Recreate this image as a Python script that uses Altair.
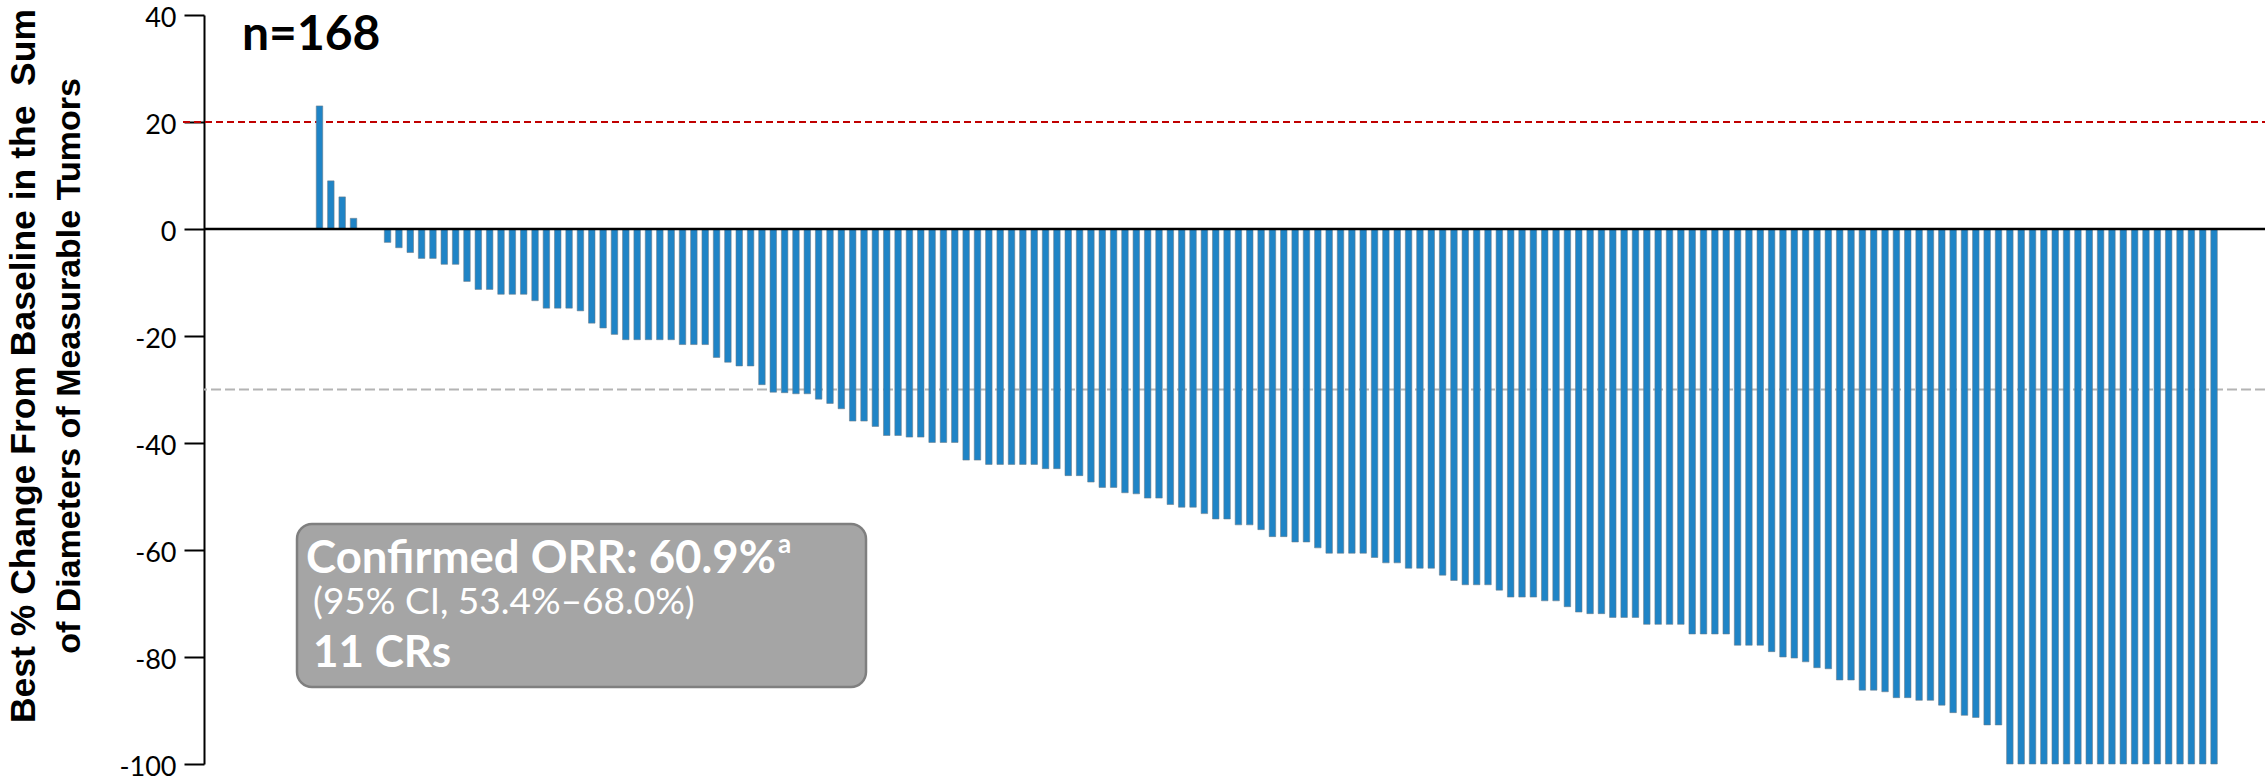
import altair as alt
import pandas as pd

# Best % change from baseline in the sum of diameters of target lesions,
# one value per patient, sorted from worst to best response.
best_change = [
    23, 9, 6, 2, 0, 0, -2.5, -3.5, -4.4, -5.5,
    -5.5, -6.6, -6.6, -9.8, -11.3, -11.3, -12.2, -12.2, -12.2, -13.4,
    -14.8, -14.8, -14.8, -15.3, -17.6, -18.5, -19.7, -20.7, -20.7, -20.7,
    -20.7, -20.7, -21.6, -21.6, -21.6, -24.0, -24.9, -25.6, -25.6, -29.1,
    -30.5, -30.6, -30.8, -30.8, -31.8, -32.6, -33.6, -35.9, -35.9, -36.9,
    -38.6, -38.6, -38.9, -38.9, -39.9, -39.9, -39.9, -43.2, -43.2, -44.0,
    -44.0, -44.0, -44.0, -44.0, -44.8, -44.8, -46.1, -46.1, -47.3, -48.3,
    -48.3, -49.3, -49.5, -50.3, -50.3, -51.5, -52.0, -52.0, -53.2, -54.2,
    -54.2, -55.3, -55.3, -56.2, -57.5, -57.5, -58.5, -58.5, -59.6, -60.6,
    -60.6, -60.6, -60.6, -61.4, -62.4, -62.4, -63.4, -63.4, -63.4, -64.7,
    -65.7, -66.5, -66.5, -66.5, -67.5, -68.8, -68.8, -68.8, -69.5, -69.5,
    -70.6, -71.6, -71.9, -71.9, -72.6, -72.6, -72.6, -73.9, -73.9, -73.9,
    -73.9, -75.7, -75.7, -75.7, -75.7, -77.8, -77.8, -77.8, -79.0, -80.0,
    -80.2, -80.9, -82.0, -82.2, -84.3, -84.3, -86.2, -86.2, -86.5, -87.6,
    -87.6, -88.1, -88.1, -89.0, -90.4, -90.9, -91.3, -92.7, -92.7, -100,
    -100, -100, -100, -100, -100, -100, -100, -100, -100, -100,
    -100, -100, -100, -100, -100, -100, -100, -100,
]
patient_rank = list(range(1, len(best_change) + 1))

y_tick_values = [-100, -80, -60, -40, -20, 0, 20, 40]
progression_threshold = [20]   # RECIST progressive disease (+20%)
response_threshold = [-30]     # RECIST partial response (-30%)
baseline_level = [0]

title_lines = ["Best % Change From Baseline in the\u00a0 Sum",
               "of Diameters of Measurable Tumors"]
orr_text = "Confirmed ORR: 60.9%"
orr_footnote = "a"
ci_text = "(95% CI, 53.4%\u201368.0%)"
cr_text = "11 CRs"

PLOT_W = 2061
PLOT_H = 749

BAR_BLUE = "#1f84c6"
LABEL_FONT = "Lato"
TITLE_FONT = "Liberation Sans"

bars_df = pd.DataFrame({"rank": patient_rank, "change": best_change})
one_row = pd.DataFrame({"k": [0]})

x_scale = alt.Scale(domain=[-8.74, 172.05], nice=False, zero=False)
y_scale = alt.Scale(domain=[-100, 40], nice=False, zero=False)

bars = alt.Chart(bars_df).mark_bar(
    size=6.5, color=BAR_BLUE, stroke="#6b7c88", strokeWidth=0.8, strokeOpacity=0.7
).encode(
    x=alt.X("rank:Q", scale=x_scale, axis=None),
    y=alt.Y(
        "change:Q",
        scale=y_scale,
        axis=alt.Axis(
            values=y_tick_values,
            labelExpr="'' + datum.value",
            labelFont=LABEL_FONT,
            labelFontSize=27,
            labelColor="black",
            labelPadding=8,
            labelOffset=3,
            tickSize=20,
            tickColor="black",
            tickWidth=2,
            domainColor="black",
            domainWidth=2,
            grid=False,
            title=None,
        ),
    ),
    y2=alt.datum(0),
)

zero_line = alt.Chart(pd.DataFrame({"v": baseline_level})).mark_rule(
    color="black", strokeWidth=2.5
).encode(y=alt.Y("v:Q", scale=y_scale))

pd_line = alt.Chart(pd.DataFrame({"v": progression_threshold})).mark_rule(
    color="#c00000", strokeWidth=2, strokeDash=[7, 4]
).encode(
    y=alt.Y("v:Q", scale=y_scale),
    x=alt.value(-21),
    x2=alt.value(PLOT_W),
)

pr_line = alt.Chart(pd.DataFrame({"v": response_threshold})).mark_rule(
    color="#b4b4b4", strokeWidth=2, strokeDash=[10, 4]
).encode(y=alt.Y("v:Q", scale=y_scale))

n_label = alt.Chart(one_row).mark_text(
    text=f"n={len(best_change)}", font=LABEL_FONT, fontSize=48, fontWeight="bold",
    align="left", baseline="alphabetic", color="black"
).encode(x=alt.value(38), y=alt.value(35))

# y-axis title drawn as two rotated lines
title_1 = alt.Chart(one_row).mark_text(
    text=title_lines[0], font=TITLE_FONT, fontSize=35.5, fontWeight="bold",
    angle=270, align="center", baseline="alphabetic", color="black"
).encode(x=alt.value(-169), y=alt.value(351))
title_2 = alt.Chart(one_row).mark_text(
    text=title_lines[1], font=TITLE_FONT, fontSize=34, fontWeight="bold",
    angle=270, align="center", baseline="alphabetic", color="black"
).encode(x=alt.value(-124), y=alt.value(351))

# summary box
box = alt.Chart(one_row).mark_rect(
    cornerRadius=15, fill="#a5a5a5", stroke="#7f7f7f", strokeWidth=2.5
).encode(x=alt.value(93), x2=alt.value(662), y=alt.value(509), y2=alt.value(672))

def box_text(txt, y, size, weight, x=109, align="left"):
    return alt.Chart(one_row).mark_text(
        text=txt, font=LABEL_FONT, fontSize=size, fontWeight=weight,
        align=align, baseline="alphabetic", color="white"
    ).encode(x=alt.value(x), y=alt.value(y))

# ORR line ends right where its footnote marker begins
orr = box_text(orr_text, 558, 45.5, "bold", x=572, align="right")
orr_sup = box_text(orr_footnote, 538, 26, "bold", x=574)
ci = box_text(ci_text, 599, 37, "normal")
crs = box_text(cr_text, 652, 44, "bold")

chart = alt.layer(
    pr_line, pd_line, bars, zero_line, n_label, title_1, title_2,
    box, orr, orr_sup, ci, crs
).properties(
    width=PLOT_W,
    height=PLOT_H,
    autosize=alt.AutoSizeParams(type="none"),
    padding={"left": 204, "top": 15, "right": 0, "bottom": 18},
    background="white",
).configure_view(stroke=None)

chart.save("out.html", embed_options={"renderer": "svg", "actions": False})
